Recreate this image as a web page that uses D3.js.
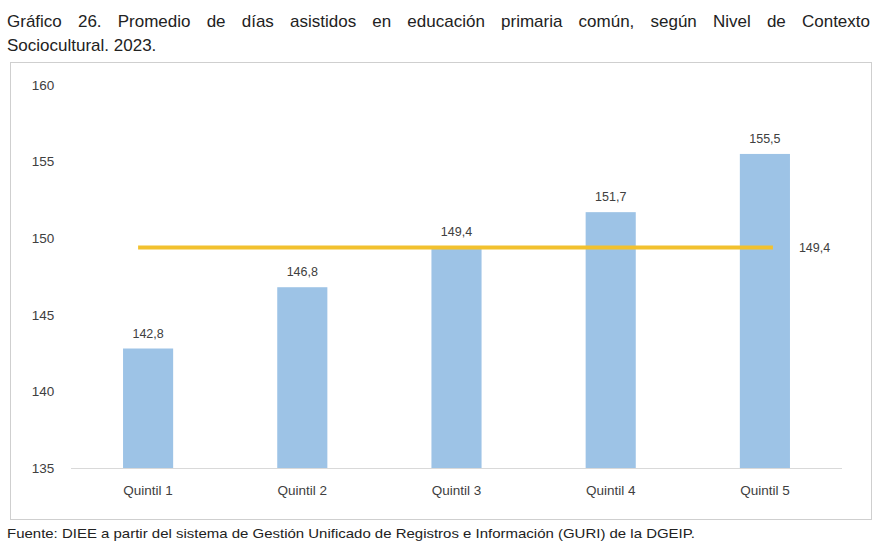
<!DOCTYPE html>
<html>
<head>
<meta charset="utf-8">
<script src="https://cdn.jsdelivr.net/npm/d3@7"></script>
<style>
  body { margin: 0; background: #fff; }
  #wrap { position: relative; width: 876px; height: 541px; overflow: hidden; }
  .title-line {
    position: absolute; left: 7px; width: 863px;
    font-family: "Liberation Sans", Arial, sans-serif;
    font-size: 17px; line-height: 20px; color: #222;
    white-space: nowrap;
  }
  .justify { text-align: justify; text-align-last: justify; white-space: normal; }
  svg { position: absolute; left: 0; top: 0; }
  .tick-label { font-family: "Liberation Sans", Arial, sans-serif; font-size: 13.5px; fill: #404040; }
  .val { font-family: "Liberation Sans", Arial, sans-serif; font-size: 12.5px; fill: #404040; }
</style>
</head>
<body>
<div id="wrap"></div>
<script>
var categories = ["Quintil 1", "Quintil 2", "Quintil 3", "Quintil 4", "Quintil 5"];
var values = [142.8, 146.8, 149.4, 151.7, 155.5];
var average = 149.4;
var yTicks = [135, 140, 145, 150, 155, 160];
var titleLines = [
  "Gráfico 26. Promedio de días asistidos en educación primaria común, según Nivel de Contexto",
  "Sociocultural. 2023."
];
var sourceText = "Fuente: DIEE a partir del sistema de Gestión Unificado de Registros e Información (GURI) de la DGEIP.";

var fmt = function(v) { return v.toFixed(1).replace(".", ","); };

var wrap = d3.select("#wrap");

var svg = wrap.append("svg").attr("width", 876).attr("height", 541);

wrap.selectAll("div.title-line")
  .data(titleLines)
  .enter().append("div")
  .attr("class", function(d, i) { return i === 0 ? "title-line justify" : "title-line"; })
  .style("top", function(d, i) { return (12 + i * 24) + "px"; })
  .text(function(d) { return d; });

// chart frame
svg.append("rect")
  .attr("x", 10.5).attr("y", 62.5)
  .attr("width", 861).attr("height", 457)
  .attr("fill", "#fff")
  .attr("stroke", "#cfcfcf");

var x = d3.scaleBand()
  .domain(categories)
  .range([71, 842])
  .paddingInner(0.675)
  .paddingOuter(0.3375);

var y = d3.scaleLinear()
  .domain([135, 160])
  .range([468, 85]);

// y labels
svg.append("g").selectAll("text")
  .data(yTicks)
  .enter().append("text")
  .attr("class", "tick-label")
  .attr("x", 43)
  .attr("y", function(d) { return y(d); })
  .attr("dy", "0.35em")
  .attr("text-anchor", "middle")
  .text(function(d) { return d; });

// bars
svg.append("g").selectAll("rect")
  .data(values)
  .enter().append("rect")
  .attr("x", function(d, i) { return x(categories[i]); })
  .attr("y", function(d) { return y(d); })
  .attr("width", x.bandwidth())
  .attr("height", function(d) { return y(135) - y(d); })
  .attr("fill", "#9DC3E6");

// baseline
svg.append("line")
  .attr("x1", 71).attr("x2", 842)
  .attr("y1", y(135) + 0.5).attr("y2", y(135) + 0.5)
  .attr("stroke", "#d9d9d9");

// x labels
svg.append("g").selectAll("text")
  .data(categories)
  .enter().append("text")
  .attr("class", "tick-label")
  .attr("x", function(d) { return x(d) + x.bandwidth() / 2; })
  .attr("y", 495)
  .attr("text-anchor", "middle")
  .text(function(d) { return d; });

// average line
var cx1 = x(categories[0]) + x.bandwidth() / 2;
var cx5 = x(categories[4]) + x.bandwidth() / 2;
svg.append("line")
  .attr("x1", cx1 - 10).attr("x2", cx5 + 8)
  .attr("y1", y(average)).attr("y2", y(average))
  .attr("stroke", "#F2C12E")
  .attr("stroke-width", 4);

svg.append("text")
  .attr("class", "val")
  .attr("x", cx5 + 34)
  .attr("y", y(average))
  .attr("dy", "0.35em")
  .text(fmt(average));

// value labels
svg.append("g").selectAll("text")
  .data(values)
  .enter().append("text")
  .attr("class", "val")
  .attr("x", function(d, i) { return x(categories[i]) + x.bandwidth() / 2; })
  .attr("y", function(d) { return y(d) - 11; })
  .attr("text-anchor", "middle")
  .text(fmt);

// source
svg.append("text")
  .attr("x", 7).attr("y", 538)
  .attr("font-family", "'Liberation Sans', Arial, sans-serif")
  .attr("font-size", 13)
  .attr("textLength", 688)
  .attr("lengthAdjust", "spacingAndGlyphs")
  .attr("fill", "#222")
  .text(sourceText);
</script>
</body>
</html>
